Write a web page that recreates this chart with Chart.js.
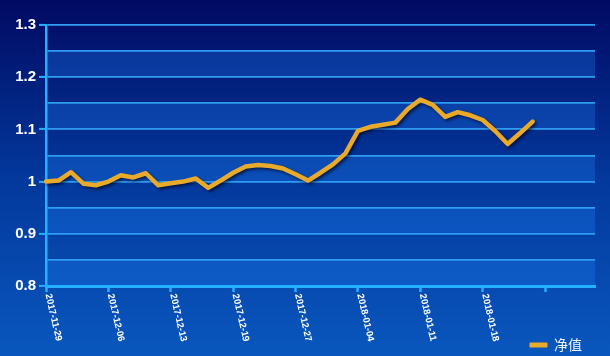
<!DOCTYPE html>
<html>
<head>
<meta charset="utf-8">
<script src="https://cdn.jsdelivr.net/npm/chart.js@4/dist/chart.umd.min.js"></script>
<style>
  html, body { margin: 0; padding: 0; background: #0a3a9c; }
  #wrap { position: relative; width: 610px; height: 356px; }
</style>
</head>
<body>
<div id="wrap"><canvas id="c" width="610" height="356"></canvas></div>
<script>
// ---- data ----
const categories = [
  '2017-11-29','2017-11-30','2017-12-01','2017-12-04','2017-12-05',
  '2017-12-06','2017-12-07','2017-12-08','2017-12-11','2017-12-12',
  '2017-12-13','2017-12-14','2017-12-15','2017-12-16','2017-12-18',
  '2017-12-19','2017-12-20','2017-12-21','2017-12-22','2017-12-25',
  '2017-12-27','2017-12-28','2017-12-29','2018-01-02','2018-01-03',
  '2018-01-04','2018-01-05','2018-01-08','2018-01-09','2018-01-10',
  '2018-01-11','2018-01-12','2018-01-15','2018-01-16','2018-01-17',
  '2018-01-18','2018-01-19','2018-01-22','2018-01-23','2018-01-24',
  '2018-01-25','2018-01-26','2018-01-29','2018-01-30','2018-01-31'
];
const netValue = [
  1.000, 1.002, 1.018, 0.996, 0.993, 1.000, 1.012, 1.008, 1.016, 0.993,
  0.997, 1.000, 1.006, 0.988, 1.002, 1.017, 1.029, 1.032, 1.030, 1.025,
  1.014, 1.002, 1.017, 1.033, 1.054, 1.097, 1.105, 1.109, 1.113, 1.139,
  1.157, 1.147, 1.124, 1.133, 1.127, 1.118, 1.097, 1.072, 1.093, 1.115
];
const tickLabels = ['2017-11-29','2017-12-06','2017-12-13','2017-12-19','2017-12-27','2018-01-04','2018-01-11','2018-01-18'];
const yTickLabels = ['0.8','0.9','1','1.1','1.2','1.3'];
const seriesName = '净值';

// ---- styles ----
const AXIS = '#22b0ff';
const GRID = '#2f9df2';
const LINE = '#e9a92a';

const bgPlugin = {
  id: 'bg',
  beforeDraw(chart) {
    const {ctx, width, height, chartArea, scales} = chart;
    ctx.save();
    const g = ctx.createLinearGradient(0, 0, 0, height);
    g.addColorStop(0, '#010a62');
    g.addColorStop(0.5, '#03389c');
    g.addColorStop(1, '#0957be');
    ctx.fillStyle = g;
    ctx.fillRect(0, 0, width, height);
    // alternating bands
    const y = scales.y;
    const t = y.ticks;
    for (let k = 0; k < t.length - 1; k++) {
      if (k % 2 === 0) {
        const y0 = y.getPixelForValue(t[k].value);
        const y1 = y.getPixelForValue(t[k + 1].value);
        ctx.fillStyle = 'rgba(30,130,250,0.3)';
        ctx.fillRect(chartArea.left, y1, chartArea.right - chartArea.left, y0 - y1);
      }
    }
    ctx.restore();
  }
};

const shadowPlugin = {
  id: 'lineShadow',
  beforeDatasetDraw(chart) {
    const ctx = chart.ctx;
    ctx.save();
    ctx.shadowColor = 'rgba(0,0,20,0.6)';
    ctx.shadowBlur = 3;
    ctx.shadowOffsetX = 2;
    ctx.shadowOffsetY = 2;
  },
  afterDatasetDraw(chart) {
    chart.ctx.restore();
  }
};

const xLabelPlugin = {
  id: 'xLabels',
  afterDraw(chart) {
    const {ctx, scales} = chart;
    const x = scales.x;
    const top = x.top + 8;
    ctx.save();
    ctx.fillStyle = '#ffffff';
    ctx.font = 'bold 9.5px "Liberation Sans", Arial, sans-serif';
    ctx.textAlign = 'left';
    ctx.textBaseline = 'middle';
    tickLabels.forEach(lbl => {
      const idx = categories.indexOf(lbl);
      const px = x.getPixelForValue(idx);
      ctx.save();
      ctx.translate(px + 2, top);
      ctx.rotate(77 * Math.PI / 180);
      ctx.fillText(lbl, 0, 0);
      ctx.restore();
    });
    ctx.restore();
  }
};

new Chart(document.getElementById('c'), {
  type: 'line',
  data: {
    labels: categories,
    datasets: [{
      label: seriesName,
      data: netValue,
      borderColor: LINE,
      backgroundColor: LINE,
      borderWidth: 4.5,
      pointRadius: 0,
      tension: 0,
      borderJoinStyle: 'round',
      borderCapStyle: 'round',
      fill: false
    }]
  },
  options: {
    responsive: false,
    animation: false,
    events: [],
    layout: { padding: { top: 25, right: 15, left: 0, bottom: -6 } },
    plugins: {
      tooltip: { enabled: false },
      legend: {
        position: 'bottom',
        align: 'end',
        labels: {
          color: '#f0f4ff',
          padding: 13,
          font: { family: '"Noto Sans CJK SC", sans-serif', size: 14 },
          boxWidth: 17,
          boxHeight: 4,
          useBorderRadius: true,
          borderRadius: 2.5,
          generateLabels(chart) {
            return chart.data.datasets.map((d, i) => ({
              text: d.label,
              fillStyle: LINE,
              strokeStyle: LINE,
              lineWidth: 1,
              fontColor: '#f0f4ff',
              datasetIndex: i,
              hidden: false
            }));
          }
        }
      }
    },
    scales: {
      x: {
        type: 'category',
        offset: false,
        afterFit(scale) { scale.height = 39; },
        grid: {
          drawOnChartArea: false,
          drawTicks: true,
          tickLength: 6,
          tickWidth: 2.5,
          tickColor: AXIS
        },
        border: { display: true, color: AXIS, width: 3 },
        ticks: {
          autoSkip: false,
          maxRotation: 0,
          minRotation: 0,
          padding: 0,
          font: { size: 1 },
          callback: (v, i) => (i % 5 === 0 ? '' : null)
        }
      },
      y: {
        min: 0.8,
        max: 1.3,
        afterFit(scale) { scale.width = 46; },
        grid: {
          color: GRID,
          lineWidth: 1.8,
          drawTicks: true,
          tickLength: 7,
          tickColor: ctx => (ctx.index % 2 === 0 ? AXIS : 'rgba(0,0,0,0)'),
          tickWidth: 2
        },
        border: { display: true, color: AXIS, width: 2.5 },
        ticks: {
          stepSize: 0.05,
          padding: 3,
          color: '#ffffff',
          font: { family: '"Liberation Sans", Arial, sans-serif', size: 15, weight: 'bold' },
          callback: (v, i) => (i % 2 === 0 ? yTickLabels[i / 2] : '')
        }
      }
    }
  },
  plugins: [bgPlugin, shadowPlugin, xLabelPlugin]
});
</script>
</body>
</html>
